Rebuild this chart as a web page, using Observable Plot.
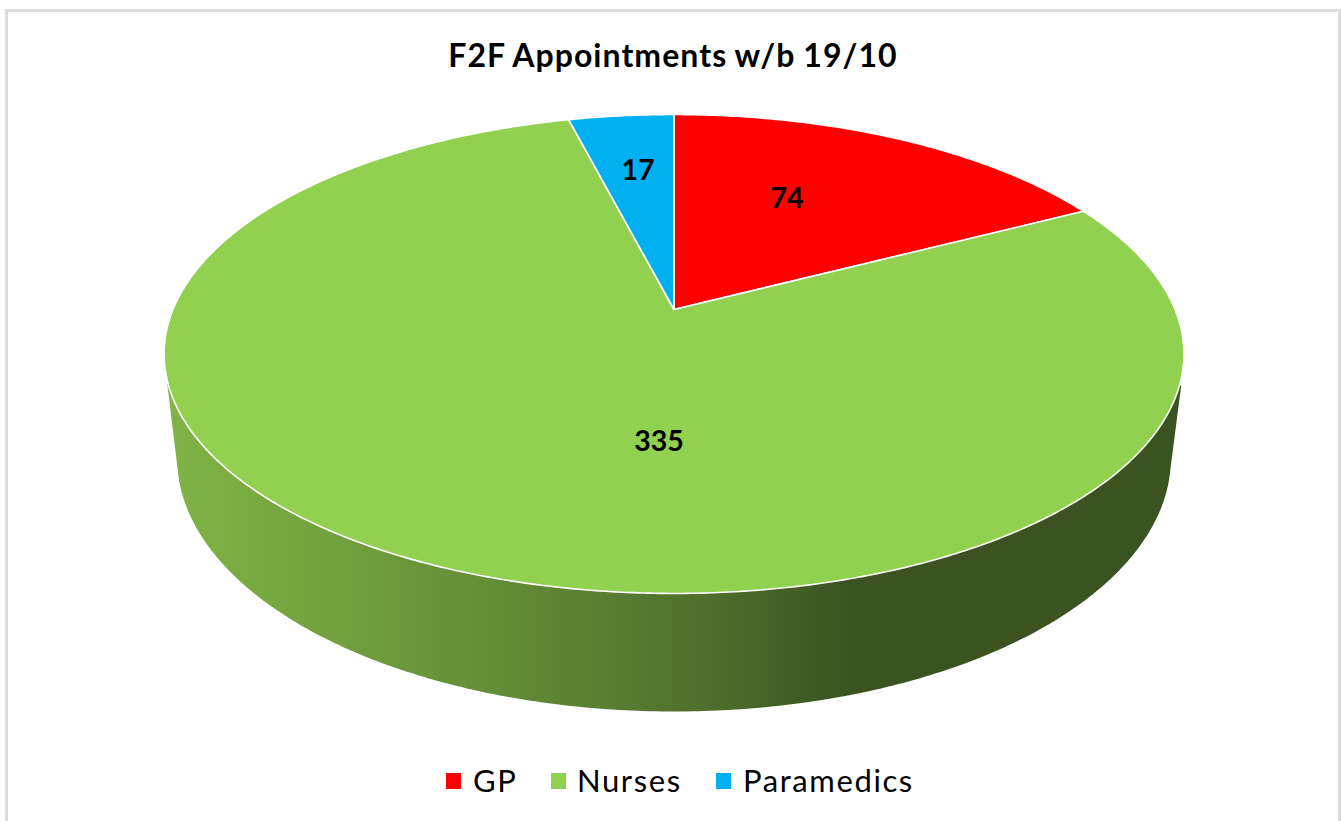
<!DOCTYPE html>
<html>
<head>
<meta charset="utf-8">
<script src="https://cdn.jsdelivr.net/npm/d3@7"></script>
<script src="https://cdn.jsdelivr.net/npm/@observablehq/plot@0.6"></script>
<style>
  html, body { margin: 0; padding: 0; background: #fff; width: 1342px; height: 821px; overflow: hidden; }
  #frame { position: absolute; left: 5px; top: 9px; width: 1336px; height: 830px; border: 3px solid #dcdcdc; box-sizing: border-box; }
  #title { position: absolute; left: 2px; width: 1342px; top: 35px; text-align: center; font: bold 32px Lato, sans-serif; letter-spacing: 1.05px; word-spacing: -1px; color: #000; line-height: 40px; }
  #chart { position: absolute; left: 0; top: 90px; }
  #chart svg { display: block; background: transparent; }
  .sw { position: absolute; width: 15px; height: 16px; top: 773px; }
  .lb { position: absolute; top: 760px; font: 31px/40px Lato, sans-serif; color: #000; letter-spacing: 1.6px; }
</style>
</head>
<body>
<div id="frame"></div>
<div id="title"></div>
<div id="chart"></div>
<div id="legend"></div>
<script>
// Data
const chartTitle = "F2F Appointments w/b 19/10";
const categories = ["GP", "Nurses", "Paramedics"];
const values = [74, 335, 17];
const colors = ["#ff0000", "#92d050", "#00b0f0"];

// Layout of the tilted disc
const cx = 673.5, cy = 309, k = 0.1858, ax = 501, ay = 231.2;
const project = (u, v) => {
  const d = 1 + k * v;
  return [cx + ax * u / d, cy - ay * v / d];
};
const labelDisc = [[0.2477, 0.527], [-0.027, -0.5166], [-0.081, 0.677]];

// Slices from the values
const arcs = d3.pie().sort(null).value(d => d)(values);
const slicePoints = [];
arcs.forEach((a, i) => {
  const name = categories[i];
  slicePoints.push({name, p: project(0, 0)});
  const n = Math.max(2, Math.ceil((a.endAngle - a.startAngle) / (Math.PI / 360)));
  for (let j = 0; j <= n; ++j) {
    const t = a.startAngle + (a.endAngle - a.startAngle) * j / n;
    slicePoints.push({name, p: project(Math.sin(t), Math.cos(t))});
  }
  slicePoints.push({name, p: project(0, 0)});
});

// Wall below the disc: straight flanks, then the lower rim
const rim = {cx: 673.5, cy: 457, rx: 497, ry: 254};
const wall = [{p: [166.7, 383]}];
const t0 = Math.asin((480 - rim.cy) / rim.ry);
for (let j = 0; j <= 240; ++j) {
  const t = Math.PI - t0 + (t0 * 2 - Math.PI) * j / 240;
  wall.push({p: [rim.cx + rim.rx * Math.cos(t), rim.cy + rim.ry * Math.sin(t)]});
}
wall.push({p: [1180.7, 385]});

const labels = categories.map((name, i) => ({text: String(values[i]), p: project(...labelDisc[i])}));

const gradientStops = [
  [0, "#80b446"], [0.17, "#72a03d"], [0.39, "#5d8434"],
  [0.53, "#4f702c"], [0.67, "#3b5321"], [1, "#3b5321"]
];

const plotTop = 90, plotHeight = 640;
const plot = Plot.plot({
  width: 1342, height: plotHeight,
  margin: 0,
  x: {domain: [0, 1342], range: [0, 1342], axis: null},
  y: {domain: [plotTop, plotTop + plotHeight], range: [0, plotHeight], axis: null},
  color: {domain: categories, range: colors},
  style: {background: "transparent", overflow: "visible"},
  marks: [
    () => {
      const ns = "http://www.w3.org/2000/svg";
      const defs = document.createElementNS(ns, "defs");
      const g = document.createElementNS(ns, "linearGradient");
      g.setAttribute("id", "wallGradient");
      g.setAttribute("x1", "0"); g.setAttribute("x2", "1");
      g.setAttribute("y1", "0"); g.setAttribute("y2", "0");
      for (const [o, c] of gradientStops) {
        const s = document.createElementNS(ns, "stop");
        s.setAttribute("offset", o);
        s.setAttribute("stop-color", c);
        g.appendChild(s);
      }
      defs.appendChild(g);
      return defs;
    },
    Plot.line(wall, {x: d => d.p[0], y: d => d.p[1], fill: "url(#wallGradient)", stroke: "none"}),
    Plot.line(slicePoints, {
      x: d => d.p[0], y: d => d.p[1], z: "name", fill: "name",
      stroke: "#fff", strokeWidth: 1.6, strokeLinejoin: "round"
    }),
    Plot.text(labels, {
      x: d => d.p[0], y: d => d.p[1], text: "text",
      fontSize: 28.5, fontWeight: "bold", fontFamily: "Lato, sans-serif", fill: "#000"
    })
  ]
});
document.getElementById("chart").appendChild(plot);

document.getElementById("title").textContent = chartTitle;
const legend = document.getElementById("legend");
const swatchX = [446, 551, 715.5], textX = [473, 577, 743];
categories.forEach((name, i) => {
  const s = document.createElement("div");
  s.className = "sw"; s.style.left = swatchX[i] + "px"; s.style.background = colors[i];
  legend.appendChild(s);
  const t = document.createElement("div");
  t.className = "lb"; t.style.left = textX[i] + "px"; t.textContent = name;
  legend.appendChild(t);
});
</script>
</body>
</html>
